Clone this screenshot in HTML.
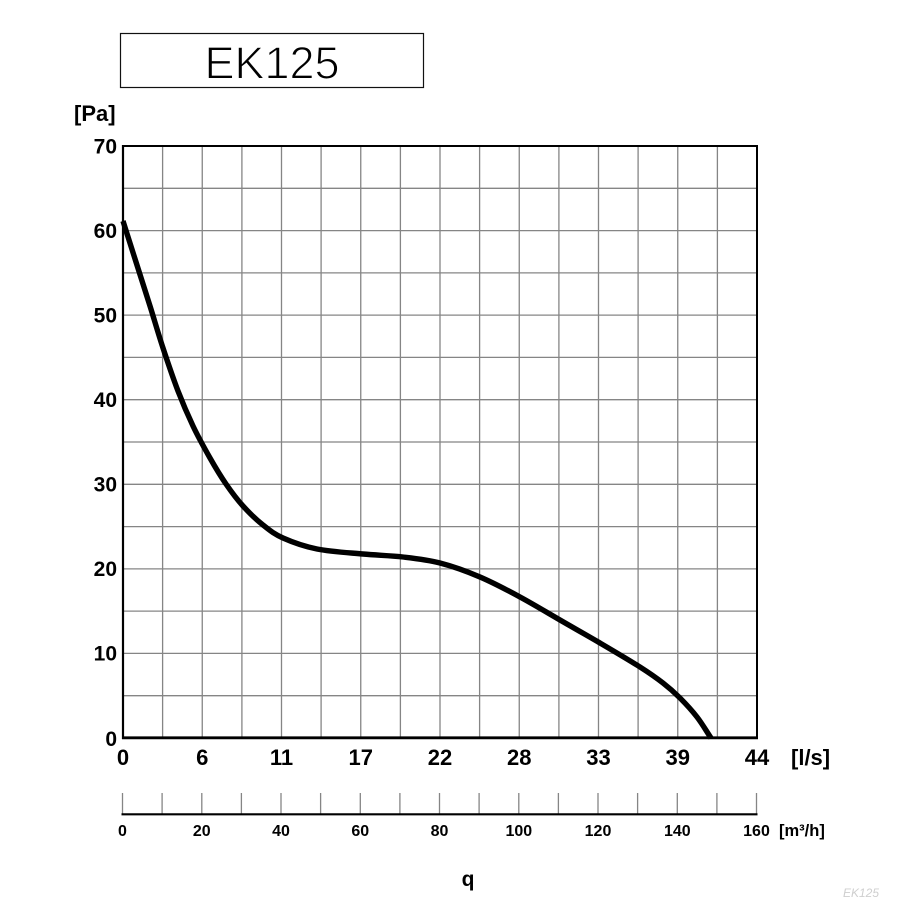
<!DOCTYPE html>
<html>
<head>
<meta charset="utf-8">
<style>
html,body{margin:0;padding:0;background:#fff;}
svg{display:block;}
text{font-family:"Liberation Sans",Arial,sans-serif;}
</style>
</head>
<body>
<svg width="908" height="909" viewBox="0 0 908 909" xmlns="http://www.w3.org/2000/svg">
<rect x="0" y="0" width="908" height="909" fill="#fff"/>
<!-- Title box -->
<rect x="120.5" y="33.5" width="303" height="54" fill="#fff" stroke="#111" stroke-width="1.2"/>
<text x="272" y="78.3" font-size="45" text-anchor="middle" fill="#000" stroke="#fff" stroke-width="1.1">EK125</text>

<!-- [Pa] -->
<text x="74" y="121" font-size="22" font-weight="bold" fill="#000">[Pa]</text>

<!-- grid -->
<g stroke="#858585" stroke-width="1.3">
<line x1="162.6" y1="146" x2="162.6" y2="738"/>
<line x1="202.25" y1="146" x2="202.25" y2="738"/>
<line x1="241.9" y1="146" x2="241.9" y2="738"/>
<line x1="281.5" y1="146" x2="281.5" y2="738"/>
<line x1="321.1" y1="146" x2="321.1" y2="738"/>
<line x1="360.75" y1="146" x2="360.75" y2="738"/>
<line x1="400.4" y1="146" x2="400.4" y2="738"/>
<line x1="440" y1="146" x2="440" y2="738"/>
<line x1="479.6" y1="146" x2="479.6" y2="738"/>
<line x1="519.25" y1="146" x2="519.25" y2="738"/>
<line x1="558.9" y1="146" x2="558.9" y2="738"/>
<line x1="598.5" y1="146" x2="598.5" y2="738"/>
<line x1="638.1" y1="146" x2="638.1" y2="738"/>
<line x1="677.75" y1="146" x2="677.75" y2="738"/>
<line x1="717.4" y1="146" x2="717.4" y2="738"/>

<line x1="123" y1="188.3" x2="757" y2="188.3"/>
<line x1="123" y1="230.6" x2="757" y2="230.6"/>
<line x1="123" y1="272.9" x2="757" y2="272.9"/>
<line x1="123" y1="315.1" x2="757" y2="315.1"/>
<line x1="123" y1="357.4" x2="757" y2="357.4"/>
<line x1="123" y1="399.7" x2="757" y2="399.7"/>
<line x1="123" y1="442" x2="757" y2="442"/>
<line x1="123" y1="484.3" x2="757" y2="484.3"/>
<line x1="123" y1="526.6" x2="757" y2="526.6"/>
<line x1="123" y1="568.9" x2="757" y2="568.9"/>
<line x1="123" y1="611.1" x2="757" y2="611.1"/>
<line x1="123" y1="653.4" x2="757" y2="653.4"/>
<line x1="123" y1="695.7" x2="757" y2="695.7"/>
</g>

<!-- border -->
<g stroke="#000" fill="none">
<line x1="123" y1="145" x2="123" y2="739" stroke-width="2.2"/>
<line x1="122" y1="146" x2="758" y2="146" stroke-width="2"/>
<line x1="757" y1="145" x2="757" y2="739" stroke-width="2"/>
<line x1="122" y1="737.8" x2="758" y2="737.8" stroke-width="2.8"/>
</g>

<!-- curve -->
<path d="M123,221 C127.3,234.7 131.5,247.8 136,262 C140.5,276.2 145.5,291.7 150,306 C154.5,320.3 158.3,333.8 163,348 C167.7,362.2 173,378 178,391 C183,404 187.7,414.8 193,426 C198.3,437.2 204.5,448.3 210,458 C215.5,467.7 220.5,476 226,484 C231.5,492 236.8,499.2 243,506 C249.2,512.8 256.3,519.7 263,525 C269.7,530.3 274,534 283,538 C292,542 303.7,546.3 317,549 C330.3,551.7 348.7,552.7 363,554 C377.3,555.3 390.2,555.5 403,557 C415.8,558.5 427.2,559.7 440,563 C452.8,566.3 466.7,571.3 480,577 C493.3,582.7 506.7,589.8 520,597 C533.3,604.2 546.7,612.3 560,620 C573.3,627.7 586.7,635.2 600,643 C613.3,650.8 629.5,660.3 640,667 C650.5,673.7 656.3,677.8 663,683 C669.7,688.2 674.3,692.3 680,698 C685.7,703.7 691.8,710.3 697,717 C702.2,723.7 706.3,731 711,738" fill="none" stroke="#000" stroke-width="5.4" stroke-linecap="butt" stroke-linejoin="round"/>

<!-- y labels -->
<g font-size="21" font-weight="bold" text-anchor="end" fill="#000">
<text x="117" y="153.5">70</text>
<text x="117" y="238">60</text>
<text x="117" y="322.5">50</text>
<text x="117" y="407">40</text>
<text x="117" y="491.5">30</text>
<text x="117" y="576">20</text>
<text x="117" y="660.5">10</text>
<text x="117" y="746">0</text>
</g>

<!-- x labels l/s -->
<g font-size="22" font-weight="bold" text-anchor="middle" fill="#000">
<text x="123" y="765">0</text>
<text x="202.25" y="765">6</text>
<text x="281.5" y="765">11</text>
<text x="360.75" y="765">17</text>
<text x="440" y="765">22</text>
<text x="519.25" y="765">28</text>
<text x="598.5" y="765">33</text>
<text x="677.75" y="765">39</text>
<text x="757" y="765">44</text>
</g>
<text x="791" y="765" font-size="22" font-weight="bold" fill="#000">[l/s]</text>

<!-- second axis m3/h -->
<g stroke="#858585" stroke-width="1.3">
<line x1="122.5" y1="793" x2="122.5" y2="814"/>
<line x1="162.1" y1="793" x2="162.1" y2="814"/>
<line x1="201.8" y1="793" x2="201.8" y2="814"/>
<line x1="241.4" y1="793" x2="241.4" y2="814"/>
<line x1="281" y1="793" x2="281" y2="814"/>
<line x1="320.6" y1="793" x2="320.6" y2="814"/>
<line x1="360.3" y1="793" x2="360.3" y2="814"/>
<line x1="399.9" y1="793" x2="399.9" y2="814"/>
<line x1="439.5" y1="793" x2="439.5" y2="814"/>
<line x1="479.1" y1="793" x2="479.1" y2="814"/>
<line x1="518.8" y1="793" x2="518.8" y2="814"/>
<line x1="558.4" y1="793" x2="558.4" y2="814"/>
<line x1="598" y1="793" x2="598" y2="814"/>
<line x1="637.6" y1="793" x2="637.6" y2="814"/>
<line x1="677.3" y1="793" x2="677.3" y2="814"/>
<line x1="716.9" y1="793" x2="716.9" y2="814"/>
<line x1="756.5" y1="793" x2="756.5" y2="814"/>
</g>
<line x1="121.5" y1="814.3" x2="757.5" y2="814.3" stroke="#000" stroke-width="2.2"/>

<g font-size="16" font-weight="bold" text-anchor="middle" fill="#000">
<text x="122.5" y="836">0</text>
<text x="201.8" y="836">20</text>
<text x="281" y="836">40</text>
<text x="360.3" y="836">60</text>
<text x="439.5" y="836">80</text>
<text x="518.8" y="836">100</text>
<text x="598" y="836">120</text>
<text x="677.3" y="836">140</text>
<text x="756.5" y="836">160</text>
</g>
<text x="779" y="836" font-size="16.5" font-weight="bold" fill="#000">[m³/h]</text>

<!-- q -->
<text x="468" y="886" font-size="21" font-weight="bold" text-anchor="middle" fill="#000">q</text>

<!-- watermark -->
<text x="843" y="897" font-size="12" font-style="italic" fill="#cfcfcf">EK125</text>
</svg>
</body>
</html>
